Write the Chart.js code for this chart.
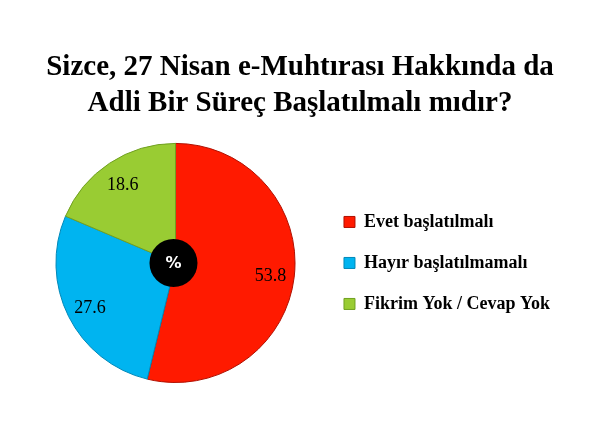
<!DOCTYPE html>
<html>
<head>
<meta charset="utf-8">
<script src="https://cdn.jsdelivr.net/npm/chart.js@4"></script>
<style>
  html, body { margin: 0; padding: 0; background: #fff; }
  #wrap { width: 600px; height: 448px; }
</style>
</head>
<body>
<div id="wrap"><canvas id="myChart" width="600" height="448"></canvas></div>
<script>
const titleLines = ['Sizce, 27 Nisan e-Muhtırası Hakkında da', 'Adli Bir Süreç Başlatılmalı mıdır?'];
const categories = ['Evet başlatılmalı', 'Hayır başlatılmamalı', 'Fikrim Yok / Cevap Yok'];
const values = [53.8, 27.6, 18.6];
const sliceColors = ['#FF1A00', '#00B4F0', '#99CC33'];
const borderColors = ['#B01000', '#0088B8', '#70A020'];

// title centred over the whole canvas, not only inside the padding
const centerTitle = {
    id: 'centerTitle',
    afterLayout(chart) {
        if (chart.titleBlock) {
            chart.titleBlock.left = 0;
            chart.titleBlock.right = chart.width;
            chart.titleBlock.width = chart.width;
        }
    }
};

// numbers inside the slices + black "%" disc in the middle
const sliceLabels = {
    id: 'sliceLabels',
    afterDatasetsDraw(chart) {
        const ctx = chart.ctx;
        const meta = chart.getDatasetMeta(0);
        ctx.save();
        ctx.font = '18px "Liberation Serif"';
        ctx.fillStyle = '#000';
        ctx.textAlign = 'center';
        ctx.textBaseline = 'middle';
        meta.data.forEach((arc, i) => {
            const mid = (arc.startAngle + arc.endAngle) / 2;
            const r = arc.outerRadius * 0.8;
            ctx.fillText(values[i].toFixed(1), arc.x + Math.cos(mid) * r, arc.y + Math.sin(mid) * r + 2);
        });

        const first = meta.data[0];
        ctx.beginPath();
        ctx.arc(first.x - 2, first.y, 24, 0, Math.PI * 2);
        ctx.fillStyle = '#000';
        ctx.fill();
        ctx.fillStyle = '#fff';
        ctx.font = 'bold 16px "DejaVu Sans"';
        ctx.fillText('%', first.x - 2, first.y + 1);
        ctx.restore();
    }
};

new Chart(document.getElementById('myChart'), {
    type: 'pie',
    data: {
        labels: categories,
        datasets: [{
            data: values,
            backgroundColor: sliceColors,
            borderColor: borderColors,
            borderWidth: 1
        }]
    },
    options: {
        responsive: false,
        animation: false,
        layout: {
            padding: { top: 0, left: 30, right: 40, bottom: 65 }
        },
        plugins: {
            title: {
                display: true,
                text: titleLines,
                color: '#000',
                font: { family: 'Liberation Serif', size: 29, weight: 'bold', lineHeight: 1.24 },
                padding: { top: 50, bottom: 21 }
            },
            legend: {
                position: 'right',
                align: 'center',
                fullSize: false,
                labels: {
                    boxWidth: 11,
                    boxHeight: 11,
                    padding: 23,
                    color: '#000',
                    font: { family: 'Liberation Serif', size: 18, weight: 'bold' }
                }
            },
            tooltip: { enabled: false }
        }
    },
    plugins: [centerTitle, sliceLabels]
});
</script>
</body>
</html>
